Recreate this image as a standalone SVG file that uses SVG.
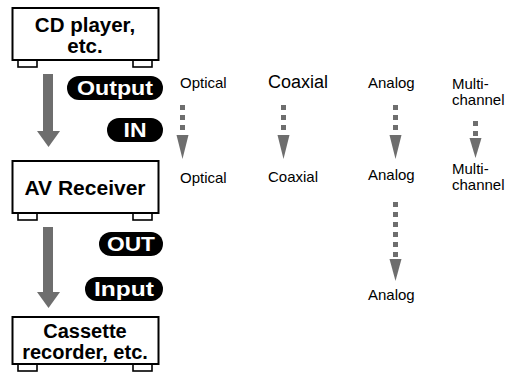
<svg xmlns="http://www.w3.org/2000/svg" width="512" height="376" viewBox="0 0 512 376">
<style>
.box{fill:#fff;stroke:#000;stroke-width:2}
.foot{fill:#fff;stroke:#000;stroke-width:1.6}
.bt{font-family:"Liberation Sans",Arial,sans-serif;font-weight:bold;font-size:20px;fill:#000;text-anchor:middle}
.pill{fill:#000}
.pt{font-family:"Liberation Sans",Arial,sans-serif;font-weight:bold;font-size:20px;fill:#fff;text-anchor:middle}
.lab{font-family:"Liberation Sans",Arial,sans-serif;font-size:15px;fill:#000}
.big{fill:#6e6e6e}
.dot{fill:#6e6e6e}
</style>
<rect width="512" height="376" fill="#fff"/>
<g id="cd-player">
<rect class="foot" x="18" y="60" width="19" height="7"/>
<rect class="foot" x="133" y="60" width="19" height="7"/>
<rect class="box" x="12.5" y="8" width="146" height="52"/>
<text class="bt" x="85" y="32" style="font-size:20.5px">CD player,</text>
<text class="bt" x="85" y="53" style="font-size:20.5px">etc.</text>
</g>
<g id="av-receiver">
<rect class="foot" x="18" y="213" width="19" height="7"/>
<rect class="foot" x="133" y="213" width="19" height="7"/>
<rect class="box" x="12.5" y="161" width="146" height="52"/>
<text class="bt" x="85" y="195" style="font-size:21px">AV Receiver</text>
</g>
<g id="cassette">
<rect class="foot" x="18" y="364" width="19" height="7"/>
<rect class="foot" x="133" y="364" width="19" height="7"/>
<rect class="box" x="12.5" y="317" width="146" height="47"/>
<text class="bt" x="85" y="338">Cassette</text>
<text class="bt" x="85" y="359">recorder, etc.</text>
</g>
<g id="pill-output"><rect class="pill" x="67" y="76" width="96" height="24" rx="12"/><text class="pt" x="115" y="95" textLength="76" lengthAdjust="spacingAndGlyphs">Output</text></g>
<g id="pill-in"><rect class="pill" x="107" y="118" width="56" height="24" rx="12"/><text class="pt" x="135" y="137" textLength="23" lengthAdjust="spacingAndGlyphs">IN</text></g>
<g id="pill-out"><rect class="pill" x="99" y="232" width="64" height="24" rx="12"/><text class="pt" x="131" y="251" textLength="48" lengthAdjust="spacingAndGlyphs">OUT</text></g>
<g id="pill-input"><rect class="pill" x="85" y="277" width="78" height="24" rx="12"/><text class="pt" x="124" y="296" textLength="60" lengthAdjust="spacingAndGlyphs">Input</text></g>
<g id="labels">
<text class="lab" x="180" y="88">Optical</text>
<text class="lab" x="268" y="88" style="font-size:18px">Coaxial</text>
<text class="lab" x="368" y="88">Analog</text>
<text class="lab" x="452" y="89">Multi-</text>
<text class="lab" x="452" y="105">channel</text>
<text class="lab" x="180" y="183">Optical</text>
<text class="lab" x="268" y="182">Coaxial</text>
<text class="lab" x="368" y="180">Analog</text>
<text class="lab" x="452" y="174">Multi-</text>
<text class="lab" x="452" y="190">channel</text>
<text class="lab" x="368" y="300">Analog</text>
</g>
<g id="connectors">
<rect class="big" x="43" y="74" width="10" height="58"/>
<polygon class="big" points="37,131 60,131 48.5,147"/>
<rect class="big" x="43" y="227" width="10" height="66"/>
<polygon class="big" points="37,292 60,292 48.5,308"/>
<g class="dot">
<rect x="180" y="105" width="5" height="5"/><rect x="180" y="115" width="5" height="5"/><rect x="180" y="125" width="5" height="5"/>
<polygon points="176.5,135 188.5,135 182.5,159"/>
<rect x="281" y="105" width="5" height="5"/><rect x="281" y="115" width="5" height="5"/><rect x="281" y="125" width="5" height="5"/>
<polygon points="277.5,135 289.5,135 283.5,159"/>
<rect x="393" y="105" width="5" height="5"/><rect x="393" y="115" width="5" height="5"/><rect x="393" y="125" width="5" height="5"/>
<polygon points="389.5,135 401.5,135 395.5,159"/>
<rect x="473" y="121" width="5" height="5"/><rect x="473" y="131" width="5" height="5"/>
<polygon points="469.5,138 481.5,138 475.5,158"/>
<rect x="393" y="202" width="5" height="5"/><rect x="393" y="212" width="5" height="5"/><rect x="393" y="222" width="5" height="5"/><rect x="393" y="232" width="5" height="5"/><rect x="393" y="242" width="5" height="5"/><rect x="393" y="252" width="5" height="5"/>
<polygon points="389.5,259 401.5,259 395.5,281"/>
</g>
</g>
</svg>
